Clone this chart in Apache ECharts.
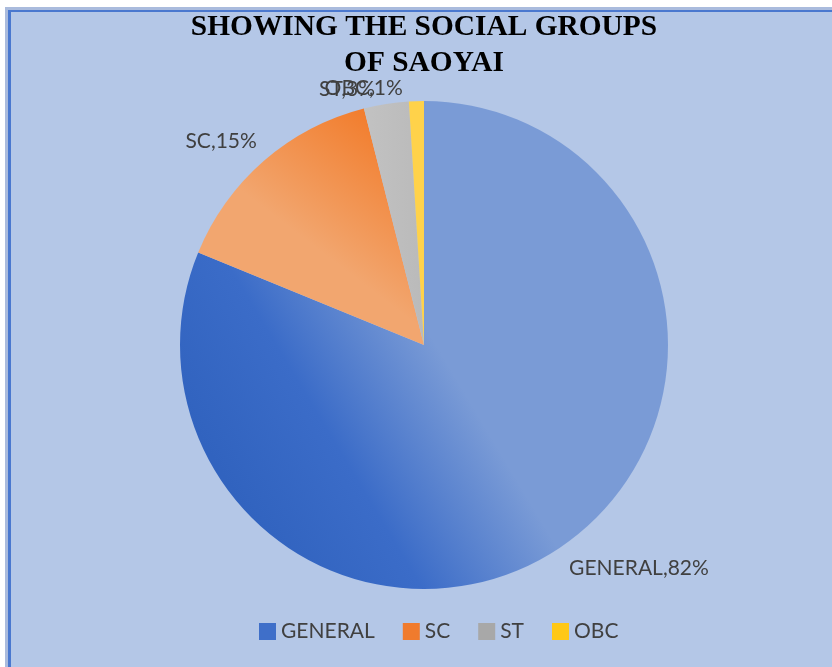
<!DOCTYPE html>
<html>
<head>
<meta charset="utf-8">
<script src="https://cdn.jsdelivr.net/npm/echarts@6/dist/echarts.min.js"></script>
<style>
  html, body { margin: 0; padding: 0; width: 832px; height: 667px; overflow: hidden; background: #ffffff; }
  /* chart-area frame: soft outer edge, blue rule, light blue fill (open to the right and bottom) */
  #frame { position: absolute; left: 5px; top: 7px; right: 0; bottom: 0;
           border-left: 3px solid #aabbdd; border-top: 3px solid #aabbdd; }
  #fill  { position: absolute; left: 0; top: 0; right: 0; bottom: 0;
           border-left: 3px solid #4a78cf; border-top: 2px solid #4a78cf; background: #b4c7e7; }
  #chart { position: absolute; left: 0; top: 0; width: 832px; height: 667px; }
</style>
</head>
<body>
<div id="frame"><div id="fill"></div></div>
<div id="chart"></div>
<script>
// Social groups of Saoyai, share of population in percent
const categories = ['GENERAL', 'SC', 'ST', 'OBC'];
const shares = [82, 15, 3, 1];

// slice fills (shaded) and flat legend key colours
const sliceFills = [
  { type: 'linear', x: 0.568, y: 0.572, x2: 0.129, y2: 0.835,
    colorStops: [{ offset: 0, color: '#7a9bd6' }, { offset: 0.55, color: '#3b6cc8' }, { offset: 1, color: '#3163bf' }] },
  { type: 'linear', x: 0.8, y: 0, x2: 0.4, y2: 0.5,
    colorStops: [{ offset: 0, color: '#f27a28' }, { offset: 1, color: '#f2a66f' }] },
  { type: 'linear', x: 0, y: 0, x2: 1, y2: 0,
    colorStops: [{ offset: 0, color: '#c2c2c2' }, { offset: 1, color: '#bababa' }] },
  '#ffd24a'
];
const keyColors = ['#3f6fc9', '#f07b2d', '#a8a8a8', '#ffc816'];
// small per-slice shifts of the outside labels, in px
const labelNudge = [[-7, 4], [11, -4], [-3, 5], [-8, 7]];

const chart = echarts.init(document.getElementById('chart'), null, { renderer: 'canvas' });

chart.setOption({
  backgroundColor: 'transparent',
  animation: false,
  title: {
    text: 'SHOWING THE SOCIAL GROUPS\nOF SAOYAI',
    left: 424,
    textAlign: 'center',
    top: 9,
    padding: 0,
    textStyle: {
      fontFamily: 'Liberation Serif',
      fontWeight: 'bold',
      fontSize: 29.4,
      lineHeight: 36,
      color: '#000000'
    }
  },
  legend: {
    left: 259,
    top: 621,
    padding: 0,
    icon: 'rect',
    itemWidth: 17,
    itemHeight: 17,
    itemGap: 28,
    selectedMode: false,
    textStyle: { fontFamily: 'Lato', fontSize: 21, color: '#404040' },
    data: categories.map((name, i) => ({ name, itemStyle: { color: keyColors[i] } }))
  },
  series: [{
    type: 'pie',
    center: [424, 345],
    radius: 244,
    startAngle: 90,
    clockwise: true,
    avoidLabelOverlap: false,
    labelLayout: { hideOverlap: false },
    itemStyle: { borderWidth: 0 },
    emphasis: { disabled: true },
    label: {
      show: true,
      position: 'outside',
      formatter: '{b},{c}%',
      fontFamily: 'Lato',
      fontSize: 21,
      color: '#404040',
      distanceToLabelLine: 5
    },
    labelLine: { show: false, length: 20, length2: 0 },
    data: categories.map((name, i) => ({
      name,
      value: shares[i],
      itemStyle: { color: sliceFills[i] },
      label: { offset: labelNudge[i] }
    }))
  }]
});
</script>
</body>
</html>
